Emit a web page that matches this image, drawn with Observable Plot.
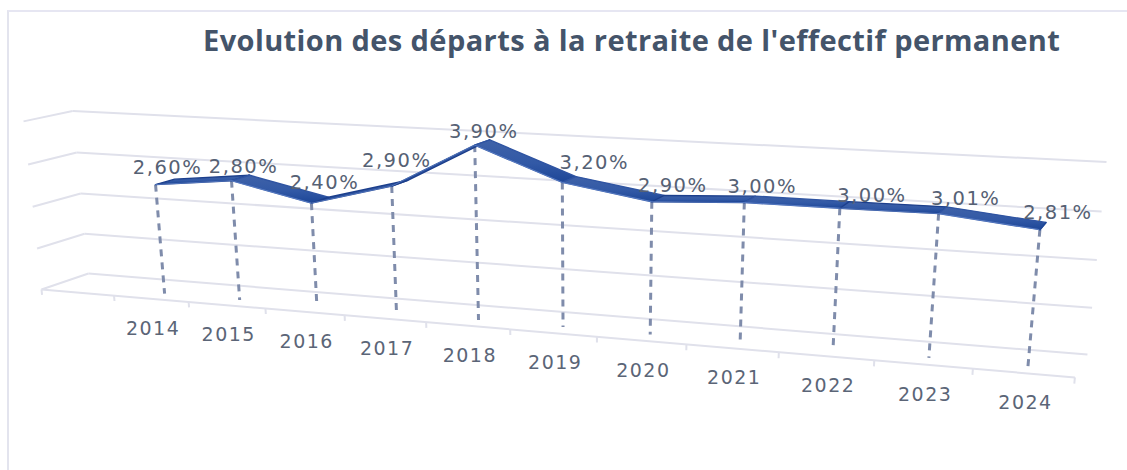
<!DOCTYPE html>
<html lang="fr">
<head>
<meta charset="utf-8">
<script src="https://cdn.jsdelivr.net/npm/d3@7"></script>
<script src="https://cdn.jsdelivr.net/npm/@observablehq/plot@0.6"></script>
<style>
  html, body { margin: 0; padding: 0; background: #fff; }
  #frame { position: relative; width: 1127px; height: 470px; overflow: hidden; }
  #edge { position: absolute; left: 7px; top: 10px; right: -4px; bottom: -4px;
          border-top: 2px solid #e6e6f2; border-left: 2px solid #e3e4ee; }
  h1 { position: absolute; left: 203px; top: 20px; margin: 0; white-space: nowrap;
       font: 700 29px "Open Sans", sans-serif; color: #44546a; letter-spacing: 0.4px; line-height: 40px; }
  svg text { letter-spacing: 1.5px; }
  #chart { position: absolute; left: 0; top: 60px; }
</style>
</head>
<body>
<div id="frame">
  <div id="edge"></div>
  <h1>Evolution des départs à la retraite de l'effectif permanent</h1>
  <div id="chart"></div>
</div>
<script>
// Data
const years = [2014, 2015, 2016, 2017, 2018, 2019, 2020, 2021, 2022, 2023, 2024];
const retirementRates = [2.60, 2.80, 2.40, 2.90, 3.90, 3.20, 2.90, 3.00, 3.00, 3.01, 2.81];
const rateLabels = ["2,60%", "2,80%", "2,40%", "2,90%", "3,90%", "3,20%", "2,90%", "3,00%", "3,00%", "3,01%", "2,81%"];
const axisLevels = [0, 1, 2, 3, 4];
const categoryEdges = [0, 1, 2, 3, 4, 5, 6, 7, 8, 9, 10, 11, 12];

// Layout: label nudges in pixels, as placed in the original
const labelNudgeX = [12, 12, 13, 5, 9, 32, 21, 18, 32, 27, 18];
const labelNudgeY = [-17, -14, -20, -25, -13, -20, -16, -16, -12, -15, -17];

// 3-D perspective: category u, value v, depth d (0 front, 1 back) onto the x and y scales
function project(u, v, d) {
  const w = 1 - 0.01416 * u - 0.00796 * v + 0.0366 * d;
  return {
    x: (0.8296 * u - 0.0505 * v + 0.5652 * d) / w,
    y: (-0.1448 * u + 0.969 * v + 0.3947 * d) / w
  };
}
const uOf = (i) => i + 1.5;
const ribbonFront = 0.3, ribbonBack = 0.72;

const gridLinks = [
  ...axisLevels.flatMap((v) => [
    {a: project(0, v, 0), b: project(0, v, 1)},
    {a: project(0, v, 1), b: project(12, v, 1)}
  ]),
  {a: project(0, 0, 0), b: project(12, 0, 0)}
];
const tickLinks = categoryEdges.map((u) => ({a: project(u, 0, 0), b: project(u, -0.13, 0)}));
const drops = years.map((_, i) => ({
  a: project(uOf(i), retirementRates[i], ribbonFront),
  b: project(uOf(i), 0, ribbonFront)
}));
const ribbon = [];
for (let i = 0; i < years.length - 1; i++) {
  const v0 = retirementRates[i], v1 = retirementRates[i + 1];
  [[i, v0, ribbonFront], [i + 1, v1, ribbonFront], [i + 1, v1, ribbonBack], [i, v0, ribbonBack], [i, v0, ribbonFront]]
    .forEach(([k, v, d]) => ribbon.push({seg: i, falling: v1 <= v0, ...project(uOf(k), v, d)}));
}
const frontEdge = years.map((_, i) => project(uOf(i), retirementRates[i], ribbonFront));
const endCap = [ribbonFront, ribbonBack].map((d) => project(uOf(years.length - 1), retirementRates[years.length - 1], d));

const linkOpts = {x1: (d) => d.a.x, y1: (d) => d.a.y, x2: (d) => d.b.x, y2: (d) => d.b.y};
const gradient = () => {
  const s = d3.create("svg:defs");
  const g = s.append("linearGradient").attr("id", "rib").attr("x1", 0).attr("y1", 0).attr("x2", 0).attr("y2", 1);
  g.append("stop").attr("offset", "0%").attr("stop-color", "#3f62a8");
  g.append("stop").attr("offset", "55%").attr("stop-color", "#3259a6");
  g.append("stop").attr("offset", "100%").attr("stop-color", "#1d4697");
  return s.node();
};

const chart = Plot.plot({
  width: 1127,
  height: 410,
  margin: 0,
  x: {domain: [0, 12], range: [41, 1075], axis: null},
  y: {domain: [0, 4], range: [229, 61], axis: null},
  style: {background: "transparent", overflow: "visible"},
  marks: [
    gradient,
    Plot.link(gridLinks, {...linkOpts, stroke: "#e0e1eb", strokeWidth: 2}),
    Plot.link(tickLinks, {...linkOpts, stroke: "#e0e1eb", strokeWidth: 2}),
    Plot.link(drops, {...linkOpts, stroke: "#7f8cab", strokeWidth: 3, strokeDasharray: "7 6"}),
    Plot.line(ribbon, {x: "x", y: "y", z: "seg", curve: "linear", fill: "url(#rib)", stroke: (d) => d.falling ? "#2f54a2" : "#1c3f8c", strokeWidth: 1.4}),
    Plot.line(frontEdge, {x: "x", y: "y", curve: "linear", stroke: "#6f93d6", strokeWidth: 0.9, strokeOpacity: 0.7}),
    Plot.line(endCap, {x: "x", y: "y", stroke: "#1d4697", strokeWidth: 1.5}),
    ...rateLabels.map((t, i) => {
      const p = project(uOf(i), retirementRates[i], ribbonFront);
      return Plot.text([{t, ...p}], {
        x: "x", y: "y", text: "t", dx: labelNudgeX[i], dy: labelNudgeY[i],
        fill: "#566174", fontSize: 19.5, fontFamily: "DejaVu Sans"
      });
    }),
    Plot.text(years.map((yr, i) => ({yr: String(yr), ...project(uOf(i), 0, 0)})), {
      x: "x", y: "y", text: "yr", dx: 2, dy: 30,
      fill: "#5b6577", fontSize: 19, fontFamily: "DejaVu Sans"
    })
  ]
});
document.getElementById("chart").append(chart);
</script>
</body>
</html>
